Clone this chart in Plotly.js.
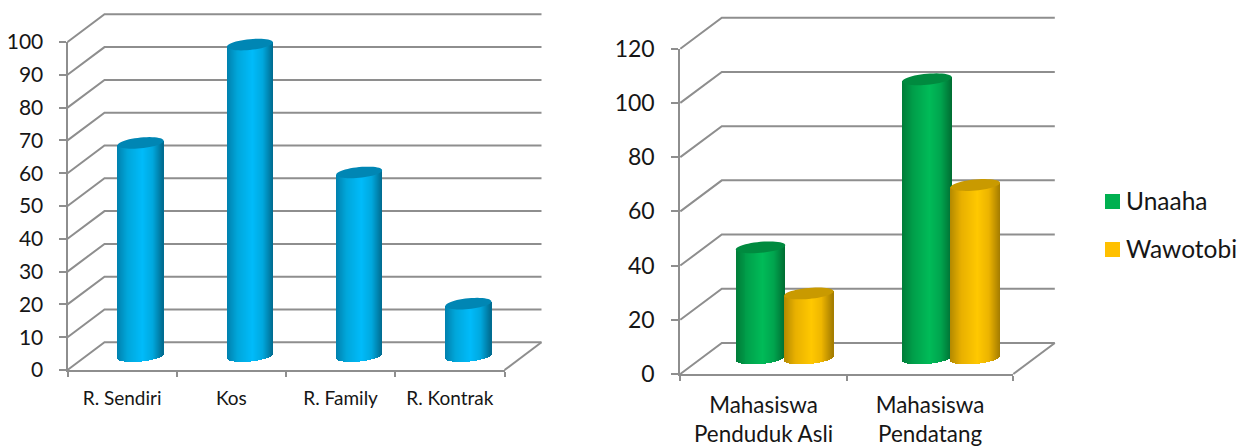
<!DOCTYPE html>
<html>
<head>
<meta charset="utf-8">
<script src="https://cdn.plot.ly/plotly-3.0.1.min.js"></script>
<style>html,body{margin:0;padding:0;background:#fff}#chart{width:1249px;height:446px}</style>
</head>
<body>
<div id="chart"></div>
<script>
// Housing type of students (left) and student origin per campus (right)
const housingCategories = ['R. Sendiri', 'Kos', 'R. Family', 'R. Kontrak'];
const housingValues = [65, 95, 56, 16];
const housingTicks = [0, 10, 20, 30, 40, 50, 60, 70, 80, 90, 100];

const originCategories = ['Mahasiswa<br>Penduduk Asli', 'Mahasiswa<br>Pendatang'];
const unaahaValues = [41, 103];
const wawotobiValues = [24, 64];
const originTicks = [0, 20, 40, 60, 80, 100, 120];

const W = 1249, H = 446;
const GRID = '#8e8e8e';
const FONT = 'Lato, "Open Sans", sans-serif';
const INK = '#161616';

const blueRamp = [[-1, '#0080ad'], [-0.55, '#00a6da'], [0.1, '#00bbfa'], [0.55, '#00a8de'], [1, '#006a8e']];
const greenRamp = [[-1, '#007c38'], [-0.55, '#009f4a'], [0.1, '#00bb58'], [0.55, '#00a54e'], [1, '#006d32']];
const yellowRamp = [[-1, '#b38900'], [-0.55, '#e8b000'], [0.1, '#ffc800'], [0.55, '#ecb400'], [1, '#a37c00']];

const hex = c => [1, 3, 5].map(i => parseInt(c.substr(i, 2), 16));
function rampColor(ramp, u) {
  for (let i = 1; i < ramp.length; i++) {
    if (u <= ramp[i][0]) {
      const t = (u - ramp[i - 1][0]) / (ramp[i][0] - ramp[i - 1][0]);
      const a = hex(ramp[i - 1][1]), b = hex(ramp[i][1]);
      return 'rgb(' + a.map((v, k) => Math.round(v + (b[k] - v) * t)).join(',') + ')';
    }
  }
  return ramp[ramp.length - 1][1];
}

const traces = [], shapes = [], annotations = [], layout = {};

// One chart: front axes for ticks and labels, plus a larger hidden subplot on the
// same scale that holds the receding floor, the back wall and the cylinders.
function addChart(o) {
  const n = o.categories.length;
  const unitX = (o.right - o.left) / n;
  const unitY = (o.y0 - o.yTop) / o.yMax;
  const dX = o.depthX / unitX, dY = o.depthY / unitY;
  const pad = 4;
  const fx = 'xaxis' + o.front, fy = 'yaxis' + o.front;
  const wx = 'xaxis' + o.wall, wy = 'yaxis' + o.wall;
  const wxRef = 'x' + o.wall, wyRef = 'y' + o.wall;
  const fxRef = 'x' + o.front, fyRef = 'y' + o.front;

  layout[fx] = {
    domain: [o.left / W, o.right / W], range: [-0.5, n - 0.5], anchor: fyRef,
    showgrid: false, zeroline: false, showline: true, linecolor: GRID, linewidth: 2,
    tickmode: 'array', tickvals: o.categories.map((c, i) => i), ticktext: o.categories,
    ticks: '', ticklabelstandoff: o.xStandoff,
    tickfont: {family: FONT, size: o.xFont, color: INK},
    minor: {tickmode: 'array', tickvals: Array.from({length: n + 1}, (v, i) => i - 0.5),
            ticks: 'outside', ticklen: 5, tickwidth: 2, tickcolor: GRID, showgrid: false},
    fixedrange: true
  };
  layout[fy] = {
    domain: [1 - o.y0 / H, 1 - o.yTop / H], range: [0, o.yMax], anchor: fxRef,
    showgrid: false, zeroline: false, showline: true, linecolor: GRID, linewidth: 2,
    tickmode: 'array', tickvals: o.ticks, ticks: 'outside', ticklen: 7, tickwidth: 2,
    tickcolor: GRID, ticklabelstandoff: o.yStandoff,
    tickfont: {family: FONT, size: o.yFont, color: INK}, fixedrange: true
  };
  layout[wx] = {
    domain: [(o.left - pad) / W, (o.right + o.depthX + pad) / W],
    range: [-0.5 - pad / unitX, n - 0.5 + dX + pad / unitX],
    anchor: wyRef, visible: false, fixedrange: true
  };
  layout[wy] = {
    domain: [1 - (o.y0 + pad) / H, 1 - (o.yTop - o.depthY - pad) / H],
    range: [-pad / unitY, o.yMax + dY + pad / unitY],
    anchor: wxRef, visible: false, fixedrange: true
  };

  // keeps the front axes in the plot
  traces.push({type: 'scatter', mode: 'lines', x: [0, n - 1], y: [0, 0], xaxis: fxRef, yaxis: fyRef,
               opacity: 0, hoverinfo: 'skip', showlegend: false});

  // wall and floor lines
  const line = {color: GRID, width: 2};
  o.ticks.forEach(t => {
    shapes.push({type: 'path', xref: wxRef, yref: wyRef, layer: 'below', line,
      path: `M${-0.5},${t} L${-0.5 + dX},${t + dY} L${n - 0.5 + dX},${t + dY}`});
  });
  shapes.push({type: 'line', xref: wxRef, yref: wyRef, layer: 'below', line,
    x0: n - 0.5 + dX, y0: dY, x1: n - 0.5, y1: 0});

  // cylinders: vertical slices shaded across the width, with a tilted elliptical cap
  o.series.forEach(s => {
    const xs = [], tops = [], bases = [], colors = [];
    const slices = Math.round(o.cylWidth);
    s.values.forEach((v, i) => {
      const cx = i + (s.shift + o.depthX / 2) / unitX;
      const cb = dY / 2;
      for (let k = 0; k < slices; k++) {
        const u = (k + 0.5) / slices * 2 - 1;
        const lower = (o.tilt * u - o.squash * Math.sqrt(1 - u * u)) / unitY;
        const base = cb + lower;
        const top = cb + v + o.tilt * u / unitY;
        xs.push(cx + u * o.cylWidth / 2 / unitX);
        bases.push(base);
        tops.push(top - base);
        colors.push(rampColor(s.ramp, u));
      }
      let p = '';
      for (let a = 0; a <= 48; a++) {
        const t = a / 48 * 2 * Math.PI;
        const px = cx + Math.cos(t) * o.cylWidth / 2 / unitX;
        const py = cb + v + (o.tilt * Math.cos(t) + o.squash * Math.sin(t)) / unitY;
        p += (a ? 'L' : 'M') + px + ',' + py + ' ';
      }
      shapes.push({type: 'path', xref: wxRef, yref: wyRef, layer: 'above', path: p + 'Z',
                   fillcolor: s.cap, line: {width: 0}});
    });
    traces.push({type: 'bar', x: xs, y: tops, base: bases, width: 1.3 / unitX,
      marker: {color: colors, line: {width: 0}}, xaxis: wxRef, yaxis: wyRef,
      name: s.name, hoverinfo: 'skip', showlegend: false});
  });
}

addChart({
  front: '', wall: '2', categories: housingCategories, ticks: housingTicks, yMax: 100,
  left: 67.5, right: 504.5, y0: 370, yTop: 42, depthX: 37, depthY: 27.7,
  cylWidth: 46, tilt: 2.2, squash: 5.4, xFont: 19, yFont: 21, xStandoff: 10, yStandoff: 11,
  series: [{name: 'Responden', values: housingValues, shift: 0, ramp: blueRamp, cap: '#0086b4'}]
});

addChart({
  front: '3', wall: '4', categories: originCategories, ticks: originTicks, yMax: 120,
  left: 680.3, right: 1013.3, y0: 374, yTop: 48.7, depthX: 41.5, depthY: 31,
  cylWidth: 49.5, tilt: 2.2, squash: 5.5, xFont: 22.4, yFont: 23, xStandoff: 10, yStandoff: 12,
  series: [
    {name: 'Unaaha', values: unaahaValues, shift: -23.8, ramp: greenRamp, cap: '#008a3f'},
    {name: 'Wawotobi', values: wawotobiValues, shift: 24.5, ramp: yellowRamp, cap: '#c99a00'}
  ]
});

// Campus key beside the right-hand chart
[['Unaaha', '#00b050', 201.5, 200.5], ['Wawotobi', '#ffc000', 249.5, 248.5]].forEach(([label, color, y, ty]) => {
  shapes.push({type: 'rect', xref: 'paper', yref: 'paper', fillcolor: color, line: {width: 0},
    x0: 1105 / W, x1: 1120 / W, y0: 1 - (y + 7.5) / H, y1: 1 - (y - 7.5) / H});
  annotations.push({xref: 'paper', yref: 'paper', x: 1123.5 / W, y: 1 - ty / H, text: label,
    showarrow: false, xanchor: 'left', yanchor: 'middle',
    font: {family: FONT, size: 24.5, color: INK}});
});

Object.assign(layout, {
  width: W, height: H, margin: {l: 0, r: 0, t: 0, b: 0}, barmode: 'overlay', bargap: 0,
  paper_bgcolor: '#fff', plot_bgcolor: 'rgba(0,0,0,0)', showlegend: false,
  shapes, annotations
});

Plotly.newPlot('chart', traces, layout, {displayModeBar: false, staticPlot: true});
</script>
</body>
</html>
